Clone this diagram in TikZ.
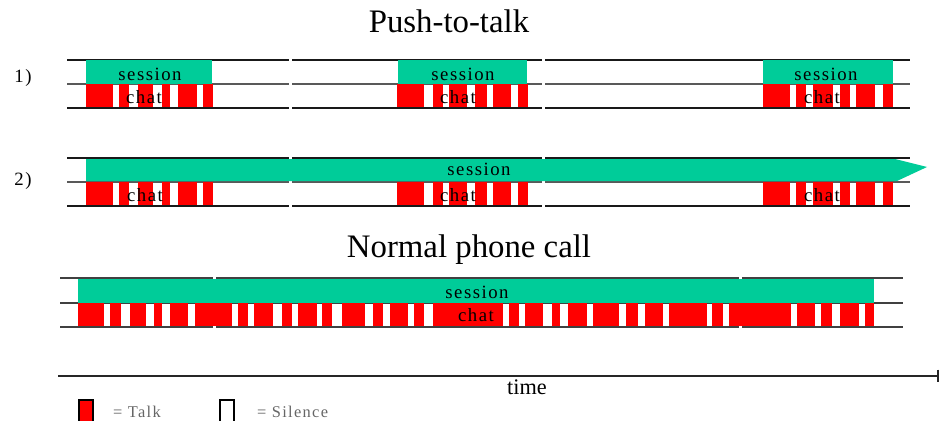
\documentclass[tikz,border=0pt]{standalone}
\usepackage{fontspec}
\setmainfont{Liberation Serif}
\newfontfamily\spacedserif[LetterSpace=8]{Liberation Serif}
\usetikzlibrary{arrows.meta}
\definecolor{sessiongreen}{RGB}{0,204,153}
\definecolor{talkred}{RGB}{255,0,0}

\begin{document}
\begin{tikzpicture}[x=0.03cm,y=-0.03cm,
                    railthick/.style={line width=2.4pt,black!90},
                    railthin/.style={line width=1.5pt,black!65},
                    railcall/.style={line width=1.3pt,black!75},
                    sessionbar/.style={fill=sessiongreen},
                    talkbar/.style={fill=talkred},
                    lbl/.style={font=\spacedserif\fontsize{16}{18}\selectfont,inner sep=0pt},
                    heading/.style={font=\fontsize{28}{32}\selectfont,inner sep=0pt},
                    legendtxt/.style={font=\spacedserif\fontsize{14}{16}\selectfont,text=black!60,inner sep=0pt}]

    \useasboundingbox (0,0) rectangle (942,421);

    % headings
    \node[heading] (ptt) at (449,21) {Push-to-talk};
    \node[heading] (normal) at (469,250) {Normal phone call};
    \node[lbl] (case1) at (23,78) {1)};
    \node[lbl] (case2) at (23,181) {2)};

    % rails of the two push-to-talk cases
    \foreach \y/\r in {60/railthick,84/railthin,108/railthick,158/railthick,182/railthin,206/railthick}
        \draw[\r] (67,\y) -- (289,\y) (292,\y) -- (542,\y) (545,\y) -- (910,\y);

    % rails of the phone call
    \foreach \y in {278,303,327}
        \draw[railcall] (60,\y) -- (213,\y) (216,\y) -- (739,\y) (742,\y) -- (903,\y);

    % case 1: one session per burst
    \foreach \a/\b in {86/212,398/527,763/893}
        \fill[sessionbar] (\a,60) rectangle (\b,84);

    % case 2: one long session
    \fill[sessionbar] (86,159) -- (895,159) -- (927,167) -- (897,181) -- (86,181) -- cycle;

    % talk spurts of both push-to-talk cases
    \foreach \y in {84,182}
        \foreach \a/\b in {86/113,119/129,138/153,162/170,178/197,203/213,
                           397/424,433/443,449/467,475/487,493/511,518/528,
                           763/790,796/806,813/833,840/850,856/875,883/893}
            \fill[talkbar] (\a,\y) rectangle (\b,\y+23);

    % phone call
    \fill[sessionbar] (78,279) rectangle (874,303);
    \foreach \a/\b in {78/104,110/121,130/146,154/162,170/188,195/232,238/248,
                       254/273,282/292,298/317,322/332,342/365,373/383,390/408,
                       414/424,433/503,509/519,525/543,552/560,568/587,593/619,
                       626/638,645/663,669/707,712/723,729/791,797/815,821/832,
                       840/859,865/874}
        \fill[talkbar] (\a,303) rectangle (\b,326);

    % labels
    \node[lbl] (sess1a) at (150,74) {session};
    \node[lbl] (sess1b) at (463,74) {session};
    \node[lbl] (sess1c) at (826,74) {session};
    \node[lbl] (chat1a) at (144,97) {chat};
    \node[lbl] (chat1b) at (458,97) {chat};
    \node[lbl] (chat1c) at (822,97) {chat};
    \node[lbl] (sess2) at (479,169) {session};
    \node[lbl] (chat2a) at (145,195) {chat};
    \node[lbl] (chat2b) at (458,195) {chat};
    \node[lbl] (chat2c) at (822,195) {chat};
    \node[lbl] (sess3) at (477,292) {session};
    \node[lbl] (chat3) at (476,315) {chat};

    % time axis
    \coordinate (t0) at (58,376);
    \coordinate (t1) at (939,376);
    \draw[line width=1.6pt,black!85,-{Bar[width=11pt,line width=1.6pt]}] (t0) -- (t1);
    \node[font=\fontsize{19}{22}\selectfont,inner sep=0pt] (time) at (527,387) {time};

    % legend
    \draw[fill=talkred,line width=1pt] (79,400) rectangle (93,425);
    \node[legendtxt,anchor=west] (talk) at (113,412) {= Talk};
    \draw[fill=white,line width=1pt] (220,400) rectangle (234,425);
    \node[legendtxt,anchor=west] (silence) at (257,412) {= Silence};
\end{tikzpicture}
\end{document}
